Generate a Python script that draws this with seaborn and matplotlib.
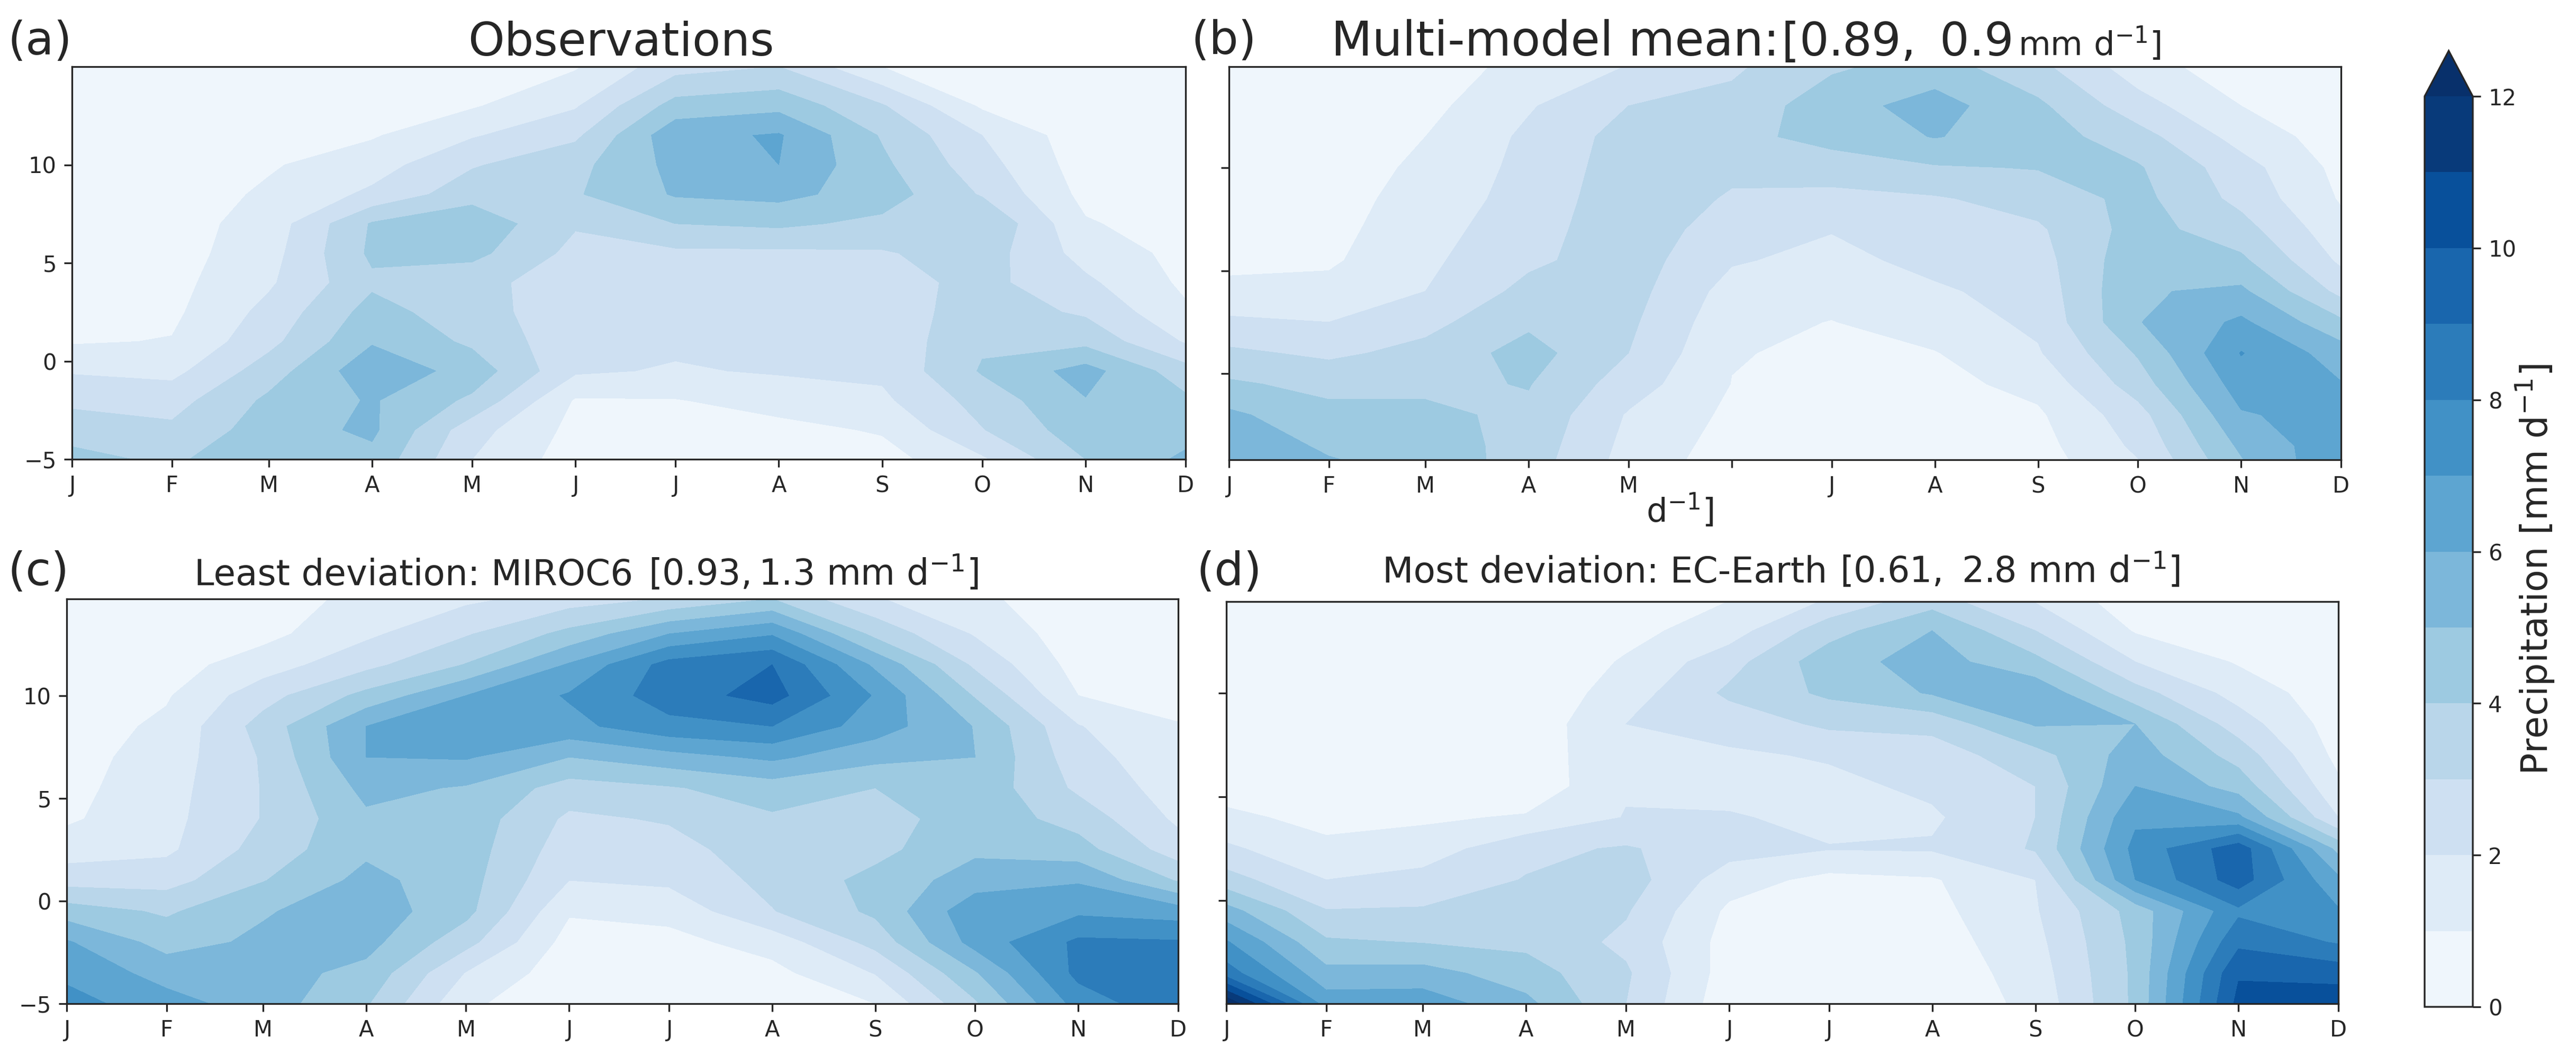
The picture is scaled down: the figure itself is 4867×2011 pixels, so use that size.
import matplotlib

matplotlib.use("Agg")
import matplotlib.pyplot as plt
import numpy as np
import seaborn as sns

WIDTH = 4867
HEIGHT = 2011

MONTH_DOY = [15, 45, 74, 105, 135, 166, 196, 227, 258, 288, 319, 349]
MONTH_LABELS = ["J", "F", "M", "A", "M", "J", "J", "A", "S", "O", "N", "D"]
LATS = [-5, -3.5, -2, -0.5, 1, 2.5, 4, 5.5, 7, 8.5, 10, 11.5, 13, 15]
LEVELS = list(range(13))

# one row per month, values run along LATS (mm/day)
OBS = [
    [4.3, 3.6, 2.75, 1.9, 0.9, 0.7, 0.6, 0.5, 0.4, 0.4, 0.3, 0.3, 0.2, 0.2],
    [3.8, 3.2, 2.6, 1.7, 1.05, 0.8, 0.7, 0.6, 0.6, 0.5, 0.4, 0.3, 0.2, 0.2],
    [4.9, 4.5, 4.2, 3.5, 2.7, 2.3, 1.85, 1.6, 1.4, 1.15, 0.9, 0.7, 0.5, 0.3],
    [4.7, 5.2, 5.1, 5.7, 4.9, 4.4, 3.8, 4.2, 4.1, 2.2, 1.55, 0.9, 0.6, 0.4],
    [2.0, 2.4, 3.8, 4.6, 3.8, 3.4, 3.3, 4.3, 4.7, 3.6, 2.9, 1.9, 0.9, 0.5],
    [0.5, 0.7, 0.9, 2.15, 2.3, 2.4, 2.5, 2.7, 3.1, 3.9, 3.7, 2.8, 1.9, 0.9],
    [0.3, 0.5, 0.95, 1.9, 2.2, 2.3, 2.5, 2.8, 4.0, 5.1, 5.3, 5.7, 4.4, 2.6],
    [0.4, 0.7, 1.4, 2.1, 2.3, 2.45, 2.6, 2.8, 4.2, 5.3, 6.0, 6.1, 4.7, 3.0],
    [0.6, 1.1, 1.8, 2.2, 2.3, 2.45, 2.6, 2.9, 3.75, 4.5, 4.2, 3.9, 3.1, 1.0],
    [1.85, 2.95, 3.4, 4.1, 3.85, 3.5, 3.3, 3.5, 4.0, 2.9, 2.4, 2.0, 0.85, 0.3],
    [4.0, 4.6, 4.95, 5.4, 3.7, 2.85, 2.2, 1.6, 1.1, 0.7, 0.5, 0.4, 0.3, 0.2],
    [5.2, 4.6, 4.2, 3.4, 1.9, 1.15, 0.8, 0.7, 0.5, 0.4, 0.3, 0.2, 0.2, 0.1],
]

MMM = [
    [6.0, 5.6, 5.2, 4.15, 3.2, 2.2, 1.2, 0.8, 0.7, 0.6, 0.5, 0.4, 0.3, 0.2],
    [5.3, 4.85, 4.3, 3.7, 2.8, 2.0, 1.3, 0.85, 0.7, 0.6, 0.5, 0.4, 0.3, 0.2],
    [4.9, 4.55, 4.2, 3.8, 3.3, 2.7, 2.0, 1.8, 1.6, 1.4, 1.2, 1.0, 0.7, 0.3],
    [3.4, 3.6, 3.8, 4.05, 4.4, 3.8, 3.3, 2.8, 2.6, 2.4, 2.3, 2.2, 1.9, 1.4],
    [1.5, 1.7, 1.9, 2.5, 3.0, 3.2, 3.4, 3.5, 3.6, 3.6, 3.5, 3.4, 3.0, 2.0],
    [0.4, 0.6, 0.8, 0.98, 1.05, 1.3, 1.6, 2.1, 2.5, 2.9, 3.2, 3.7, 3.3, 2.8],
    [0.2, 0.3, 0.5, 0.7, 0.85, 0.97, 1.35, 1.7, 2.05, 2.7, 3.5, 4.35, 4.6, 3.8],
    [0.2, 0.3, 0.5, 0.7, 0.95, 1.5, 1.85, 2.3, 2.65, 2.9, 3.9, 5.05, 5.4, 4.4],
    [0.5, 0.65, 0.85, 1.3, 1.9, 2.2, 2.4, 2.6, 2.85, 3.4, 4.05, 4.5, 4.2, 3.2],
    [1.7, 2.2, 2.6, 3.5, 4.1, 4.95, 4.9, 4.7, 4.4, 4.3, 4.1, 3.4, 2.4, 1.4],
    [4.6, 5.2, 5.9, 6.5, 7.05, 6.2, 5.2, 4.2, 3.4, 2.7, 2.4, 1.6, 1.0, 0.4],
    [7.0, 6.7, 6.4, 6.05, 5.5, 4.2, 2.7, 1.8, 1.3, 0.9, 0.7, 0.5, 0.3, 0.2],
]

MIROC6 = [
    [7.4, 6.75, 6.1, 4.5, 2.6, 1.5, 0.85, 0.7, 0.6, 0.5, 0.4, 0.3, 0.2, 0.1],
    [6.4, 5.6, 4.6, 3.85, 2.6, 1.8, 1.7, 1.6, 1.45, 1.2, 0.9, 0.6, 0.4, 0.2],
    [5.5, 5.4, 5.2, 4.9, 3.95, 3.4, 3.05, 3.05, 3.1, 3.4, 2.6, 1.5, 0.7, 0.3],
    [4.1, 4.7, 5.35, 5.6, 5.3, 4.8, 4.8, 5.3, 6.0, 6.0, 4.3, 2.7, 1.8, 1.3],
    [1.2, 1.95, 3.35, 4.3, 4.4, 4.5, 4.6, 4.9, 6.1, 6.9, 6.0, 4.05, 2.9, 1.6],
    [0.2, 0.4, 0.6, 1.1, 2.0, 2.45, 2.8, 3.55, 5.0, 6.7, 7.1, 6.1, 4.3, 2.2],
    [0.2, 0.4, 0.7, 1.3, 2.2, 2.6, 3.1, 3.9, 5.6, 7.7, 8.5, 8.4, 6.0, 2.6],
    [0.3, 0.7, 1.4, 2.95, 3.3, 3.6, 3.85, 4.5, 6.2, 8.0, 9.4, 9.0, 6.9, 3.5],
    [1.0, 2.05, 3.35, 4.2, 4.3, 3.7, 3.5, 4.0, 5.3, 6.5, 6.9, 5.8, 3.7, 1.9],
    [3.85, 4.9, 6.4, 6.7, 5.5, 4.8, 4.6, 4.7, 5.0, 4.95, 3.9, 2.8, 1.9, 1.2],
    [7.4, 8.3, 8.2, 6.8, 5.9, 4.4, 3.6, 2.8, 2.4, 2.05, 1.0, 0.6, 0.4, 0.2],
    [8.8, 8.5, 8.1, 6.5, 3.9, 2.45, 1.8, 1.5, 1.3, 1.05, 0.7, 0.4, 0.3, 0.1],
]

EC_EARTH = [
    [13.0, 8.5, 7.1, 5.4, 3.4, 2.2, 1.15, 0.7, 0.5, 0.4, 0.3, 0.2, 0.1, 0.1],
    [6.6, 5.3, 4.15, 3.05, 2.0, 1.15, 0.8, 0.6, 0.5, 0.4, 0.3, 0.2, 0.15, 0.1],
    [6.6, 5.4, 3.95, 3.1, 2.35, 1.45, 0.85, 0.6, 0.5, 0.4, 0.3, 0.2, 0.1, 0.1],
    [5.3, 4.45, 3.75, 3.1, 3.05, 2.75, 1.1, 0.3, 0.3, 0.3, 0.2, 0.2, 0.2, 0.1],
    [3.0, 3.15, 2.75, 3.1, 3.5, 3.1, 2.05, 1.9, 1.95, 2.0, 1.5, 1.1, 0.7, 0.3],
    [0.3, 0.5, 0.6, 0.8, 1.45, 2.4, 2.1, 1.6, 1.85, 2.4, 3.2, 2.6, 1.5, 0.8],
    [0.2, 0.3, 0.5, 0.7, 0.7, 2.05, 1.7, 1.75, 2.1, 3.2, 4.2, 4.6, 3.6, 1.6],
    [0.2, 0.3, 0.5, 0.7, 0.9, 2.1, 1.85, 2.2, 2.5, 3.3, 5.1, 5.4, 5.0, 3.0],
    [1.3, 1.5, 1.7, 1.9, 2.0, 3.1, 3.0, 3.0, 3.6, 5.1, 5.7, 4.3, 3.0, 1.5],
    [4.2, 4.2, 4.25, 4.4, 7.0, 7.3, 6.8, 6.0, 5.5, 5.0, 3.4, 2.0, 0.9, 0.4],
    [10.3, 9.9, 8.75, 7.8, 9.5, 9.6, 6.2, 4.6, 3.6, 2.5, 1.6, 0.9, 0.5, 0.2],
    [10.7, 9.6, 7.9, 7.1, 6.2, 4.7, 2.0, 1.2, 0.7, 0.5, 0.4, 0.3, 0.2, 0.1],
]


def add_px_axes(fig, left, top, right, bottom):
    return fig.add_axes(
        [left / WIDTH, 1 - bottom / HEIGHT, (right - left) / WIDTH, (bottom - top) / HEIGHT]
    )


def px_text(fig, x, y, s, size, **kwargs):
    kwargs.setdefault("va", "baseline")
    fig.text(x / WIDTH, 1 - y / HEIGHT, s, fontsize=size, **kwargs)


def draw_panel(ax, values, ylim, cmap, hide_yticklabels=False, hide_june=False):
    grid = np.array(values).T
    cf = ax.contourf(MONTH_DOY, LATS, grid, levels=LEVELS, cmap=cmap, extend="max")
    ax.set_xlim(MONTH_DOY[0], MONTH_DOY[-1])
    ax.set_ylim(*ylim)
    labels = list(MONTH_LABELS)
    if hide_june:
        labels[5] = ""
    ax.set_xticks(MONTH_DOY, labels)
    ax.set_yticks([t for t in [-5, 0, 5, 10] if t >= ylim[0]])
    if hide_yticklabels:
        ax.set_yticklabels([])
    ax.tick_params(labelsize=10, length=3.5, width=0.8)
    return cf


if __name__ == "__main__":
    sns.set_style("ticks")
    plt.rcParams["font.family"] = ["DejaVu Sans"]
    plt.rcParams["mathtext.default"] = "regular"
    cmap = sns.color_palette("Blues", as_cmap=True)

    fig = plt.figure(figsize=(WIDTH / 300, HEIGHT / 300), dpi=300)

    ax_a = add_px_axes(fig, 136, 126, 2240, 868)
    ax_b = add_px_axes(fig, 2322, 126, 4423, 869)
    ax_c = add_px_axes(fig, 126, 1132, 2226, 1897)
    ax_d = add_px_axes(fig, 2317, 1137, 4418, 1897)
    cax = add_px_axes(fig, 4581, 96, 4672, 1903)

    cf = draw_panel(ax_a, OBS, (-5, 15), cmap)
    draw_panel(ax_b, MMM, (-4.18, 14.9), cmap, hide_yticklabels=True, hide_june=True)
    draw_panel(ax_c, MIROC6, (-5, 14.7), cmap)
    draw_panel(ax_d, EC_EARTH, (-4.97, 14.4), cmap, hide_yticklabels=True)

    cbar = fig.colorbar(cf, cax=cax, extend="max")
    cbar.set_ticks(range(0, 13, 2))
    cbar.ax.tick_params(labelsize=10, length=3.5, width=0.8)

    px_text(fig, 4790, 1077, "Precipitation [mm d$^{-1}$]", 16.5,
            rotation=90, ha="center", va="center")

    px_text(fig, 15, 103, "(a)", 21)
    px_text(fig, 1173, 105, "Observations", 21, ha="center")

    px_text(fig, 2251, 102, "(b)", 21)
    px_text(fig, 2515, 105, "Multi-model mean:", 21.6)
    px_text(fig, 3365, 105, "$[0.89,\\ 0.9$", 21)
    px_text(fig, 3813, 105, "$mm\\ d^{-1}]$", 15)
    px_text(fig, 3110, 987, "d$^{-1}$]", 15)

    px_text(fig, 15, 1106, "(c)", 21)
    px_text(fig, 367, 1106, "Least deviation: MIROC6", 16.2)
    px_text(fig, 1225, 1106, "$[0.93, 1.3\\ mm\\ d^{-1}]$", 16)

    px_text(fig, 2260, 1106, "(d)", 21)
    px_text(fig, 2612, 1101, "Most deviation: EC-Earth", 16.3)
    px_text(fig, 3476, 1101, "$[0.61,\\ 2.8\\ mm\\ d^{-1}]$", 16)

    fig.savefig("out.png", dpi=300)
    plt.close(fig)
